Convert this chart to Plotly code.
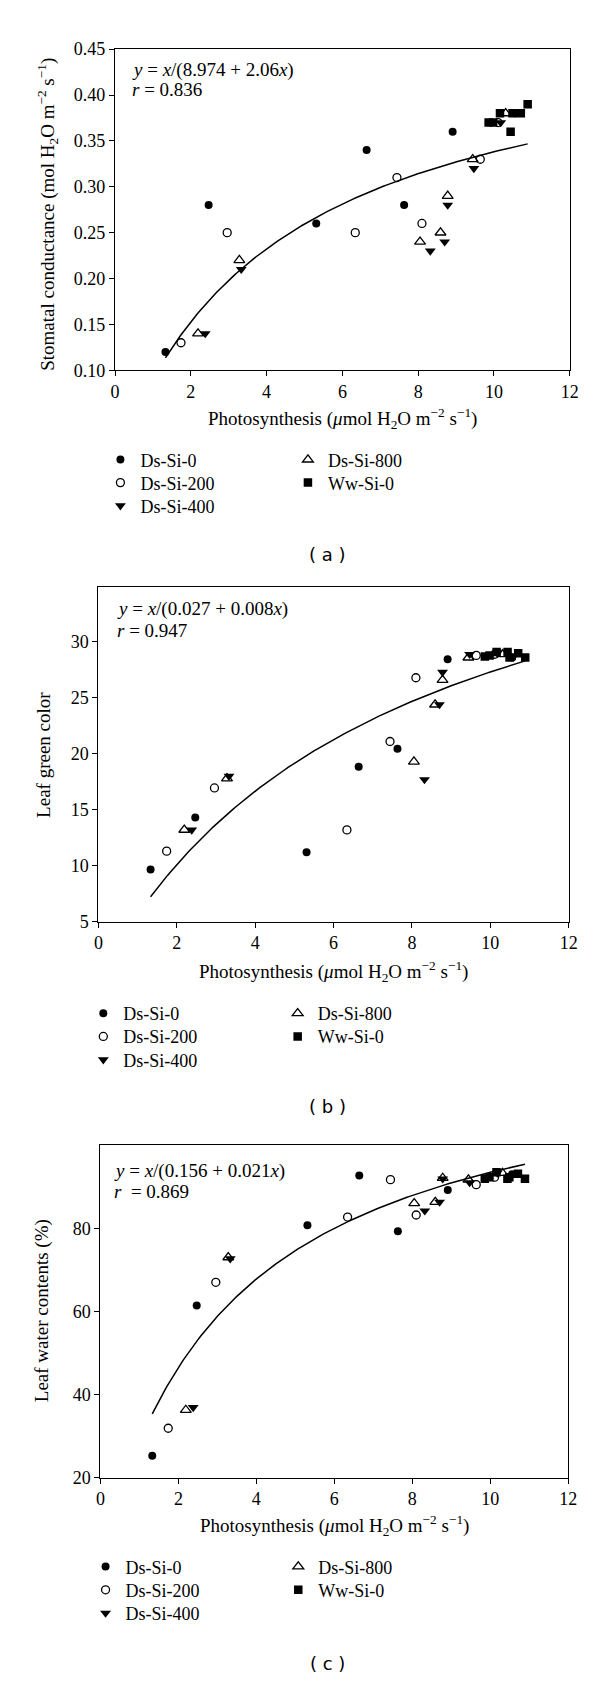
import numpy as np
import plotly.graph_objects as go

W, H = 600, 1681

SERIES = ["Ds-Si-0", "Ds-Si-200", "Ds-Si-400", "Ds-Si-800", "Ww-Si-0"]

# Photosynthesis (x) per treatment (same plants in all three panels)
PHOTO_DS0 = [1.33, 2.47, 5.31, 6.64, 7.63, 8.91, 10.56]
PHOTO_DS200 = [1.74, 2.96, 6.34, 7.44, 8.10, 9.64, 10.11]
PHOTO_DS400 = [2.38, 3.33, 8.32, 8.70, 8.78, 9.47, 10.18]
PHOTO_DS800 = [2.19, 3.28, 8.05, 8.59, 8.78, 9.44, 10.31]
PHOTO_WW0 = [9.86, 9.98, 10.16, 10.44, 10.49, 10.71, 10.89]

# (a) Stomatal conductance
GS_DS0 = [0.12, 0.28, 0.26, 0.34, 0.28, 0.36, 0.38]
GS_DS200 = [0.13, 0.25, 0.25, 0.31, 0.26, 0.33, 0.37]
GS_DS400 = [0.14, 0.21, 0.23, 0.24, 0.28, 0.32, 0.37]
GS_DS800 = [0.14, 0.22, 0.24, 0.25, 0.29, 0.33, 0.38]
GS_WW0 = [0.37, 0.37, 0.38, 0.36, 0.38, 0.38, 0.39]

# (b) Leaf green color
LGC_DS0 = [9.65, 14.3, 11.2, 18.85, 20.45, 28.45, 28.6]
LGC_DS200 = [11.3, 16.95, 13.2, 21.1, 26.8, 28.8, 28.9]
LGC_DS400 = [13.2, 18.0, 17.7, 24.4, 27.3, 28.9, 29.0]
LGC_DS800 = [13.2, 17.8, 19.3, 24.4, 26.6, 28.6, 28.9]
LGC_WW0 = [28.7, 28.8, 29.1, 29.1, 28.6, 29.0, 28.6]

# (c) Leaf water contents (%)
LWC_DS0 = [25.3, 61.4, 80.7, 92.7, 79.3, 89.2, 93.0]
LWC_DS200 = [31.9, 67.0, 82.7, 91.7, 83.2, 90.5, 92.3]
LWC_DS400 = [36.9, 72.7, 84.2, 86.3, 91.9, 91.0, 93.3]
LWC_DS800 = [36.3, 73.0, 86.0, 86.3, 92.1, 91.7, 93.3]
LWC_WW0 = [91.9, 92.3, 93.5, 91.9, 92.3, 93.1, 91.9]

# fitted hyperbola y = x/(a + b x) (coefficients of the drawn curves)
FIT_A = (8.974, 2.06)
FIT_B = (0.156, 0.021)
FIT_C = (0.027, 0.008)

EQ_TEXT = ["<i>y</i> = <i>x</i>/(8.974 + 2.06<i>x</i>)",
           "<i>y</i> = <i>x</i>/(0.027 + 0.008<i>x</i>)",
           "<i>y</i> = <i>x</i>/(0.156 + 0.021<i>x</i>)"]
R_TEXT = ["<i>r</i> = 0.836", "<i>r</i> = 0.947", "<i>r</i>\u00a0\u00a0= 0.869"]
YTITLES = ["Stomatal conductance (mol H<sub>2</sub>O m<sup>\u22122</sup> s<sup>\u22121</sup>)",
           "Leaf green color", "Leaf water contents (%)"]
XTITLE = "Photosynthesis (<i>\u03bc</i>mol H<sub>2</sub>O m<sup>\u22122</sup> s<sup>\u22121</sup>)"
PANEL_LABELS = ["( a )", "( b )", "( c )"]

SERIF = "Liberation Serif"
FS_TITLE = 19
FS_TICK = 18
FS_LEG = 18


def px(x):
    return x / W


def py(y):
    return 1 - y / H


# panel geometry in pixels: left, right, top, bottom
PANELS = [
    dict(l=104.5, r=570, t=31.5, b=356.5, yr=[0.10, 0.45], yt=[0.10, 0.15, 0.20, 0.25, 0.30, 0.35, 0.40, 0.45],
         ytxt=["0.10", "0.15", "0.20", "0.25", "0.30", "0.35", "0.40", "0.45"],
         xt_y=405, yt_x=35, yt_c=199, eq_x=119.5, eq_y=53, r_y=72,
         cols=(109.5, 301.5), rows=(446.7, 470, 493.3), lab=(322, 542.7)),
    dict(l=87.5, r=569, t=576, b=914.5, yr=[5, 34.9], yt=[5, 10, 15, 20, 25, 30],
         ytxt=["5", "10", "15", "20", "25", "30"],
         xt_y=965, yt_x=30.5, yt_c=746, eq_x=104, eq_y=598.5, r_y=619.5,
         cols=(92, 291), rows=(1007, 1030.5, 1054), lab=(322.5, 1102)),
    dict(l=89.5, r=568.5, t=1140.7, b=1477.3, yr=[20, 100], yt=[20, 40, 60, 80],
         ytxt=["20", "40", "60", "80"],
         xt_y=1526, yt_x=30.5, yt_c=1308, eq_x=101, eq_y=1166.7, r_y=1187.7,
         cols=(94.3, 291.6), rows=(1567, 1590.5, 1614), lab=(322.5, 1665)),
]

PANEL_Y = [
    [GS_DS0, GS_DS200, GS_DS400, GS_DS800, GS_WW0],
    [LGC_DS0, LGC_DS200, LGC_DS400, LGC_DS800, LGC_WW0],
    [LWC_DS0, LWC_DS200, LWC_DS400, LWC_DS800, LWC_WW0],
]
PHOTO = [PHOTO_DS0, PHOTO_DS200, PHOTO_DS400, PHOTO_DS800, PHOTO_WW0]
FITS = [FIT_A, FIT_B, FIT_C]

MARKERS = [
    dict(symbol="circle", size=8, color="black", line=dict(width=0)),
    dict(symbol="circle-open", size=8, color="black", line=dict(width=1.3)),
    dict(symbol="triangle-down", size=9.5, color="black", line=dict(width=0)),
    dict(symbol="triangle-up-open", size=9.5, color="black", line=dict(width=1.3)),
    dict(symbol="square", size=8.5, color="black", line=dict(width=0)),
]
# legend slot (column, row) of each series
LEG_SLOT = [(0, 0), (0, 1), (0, 2), (1, 0), (1, 1)]

# plotly legend geometry: symbol at +20 px, item centre at 5 + (1.3*fs + 3)/2 px
LEG_DX = 20
LEG_DY = 5 + (1.3 * FS_LEG + 3) / 2

fig = go.Figure()
annotations = []
layout = {}
leg_count = 0

for i, P in enumerate(PANELS):
    k = "" if i == 0 else str(i + 1)
    xa, ya = "x" + k, "y" + k

    allx = [v for s in PHOTO for v in s]
    xs = np.linspace(min(allx), max(allx), 200)
    a, b = FITS[i]
    fig.add_trace(go.Scatter(x=xs, y=xs / (a + b * xs), mode="lines",
                             line=dict(color="black", width=1.5),
                             xaxis=xa, yaxis=ya, showlegend=False, hoverinfo="skip"))
    for j, name in enumerate(SERIES):
        leg_count += 1
        lgname = "legend" if leg_count == 1 else "legend" + str(leg_count)
        c, r = LEG_SLOT[j]
        layout[lgname] = dict(x=px(P["cols"][c] - LEG_DX), y=py(P["rows"][r] - LEG_DY),
                              xanchor="left", yanchor="top",
                              font=dict(family=SERIF, size=FS_LEG, color="black"),
                              bgcolor="rgba(0,0,0,0)", borderwidth=0, itemwidth=30)
        fig.add_trace(go.Scatter(x=PHOTO[j], y=PANEL_Y[i][j], mode="markers", name=name,
                                 marker=MARKERS[j], xaxis=xa, yaxis=ya, legend=lgname))

    axstyle = dict(showline=True, linecolor="black", linewidth=1.3, mirror=True,
                   ticks="outside", ticklen=5, tickwidth=1, tickcolor="black",
                   showgrid=False, zeroline=False,
                   tickfont=dict(family=SERIF, size=FS_TICK, color="black"))
    layout["xaxis" + k] = dict(axstyle, domain=[px(P["l"]), px(P["r"])], range=[0, 12],
                               tickvals=[0, 2, 4, 6, 8, 10, 12], anchor=ya)
    layout["yaxis" + k] = dict(axstyle, domain=[py(P["b"]), py(P["t"])], range=P["yr"],
                               tickvals=P["yt"], ticktext=P["ytxt"], anchor=xa)

    annotations += [
        dict(text=XTITLE, x=px((P["l"] + P["r"]) / 2), y=py(P["xt_y"]), xref="paper", yref="paper",
             showarrow=False, xanchor="center", yanchor="middle",
             font=dict(family=SERIF, size=FS_TITLE, color="black")),
        dict(text=YTITLES[i], x=px(P["yt_x"]), y=py(P["yt_c"]), xref="paper", yref="paper",
             showarrow=False, xanchor="center", yanchor="middle", textangle=-90,
             font=dict(family=SERIF, size=FS_TITLE, color="black")),
        dict(text=EQ_TEXT[i], x=px(P["eq_x"]), y=py(P["eq_y"]), xref="paper", yref="paper",
             showarrow=False, xanchor="left", yanchor="middle",
             font=dict(family=SERIF, size=FS_TITLE, color="black")),
        dict(text=R_TEXT[i], x=px(P["eq_x"]), y=py(P["r_y"]), xref="paper", yref="paper",
             showarrow=False, xanchor="left", yanchor="middle",
             font=dict(family=SERIF, size=FS_TITLE, color="black")),
        dict(text=PANEL_LABELS[i], x=px(P["lab"][0]), y=py(P["lab"][1]), xref="paper", yref="paper",
             showarrow=False, xanchor="center", yanchor="middle",
             font=dict(family="DejaVu Sans", size=18, color="black")),
    ]

fig.update_layout(width=W, height=H, margin=dict(l=0, r=0, t=0, b=0),
                  paper_bgcolor="white", plot_bgcolor="white",
                  annotations=annotations, **layout)

fig.write_html("out.html")
